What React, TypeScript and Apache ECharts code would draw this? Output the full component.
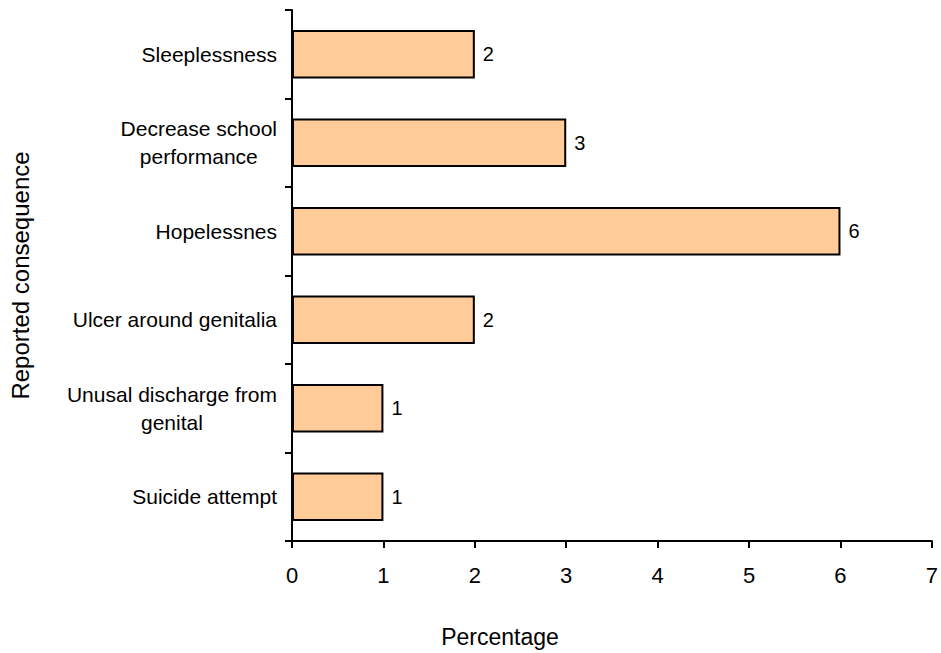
import React, { useEffect, useRef } from "react";
import * as echarts from "echarts";

const categories = [
  "Sleeplessness",
  "Decrease school\nperformance",
  "Hopelessnes",
  "Ulcer around genitalia",
  "Unusal discharge from\ngenital",
  "Suicide attempt",
];
const values = [2, 3, 6, 2, 1, 1];
const xTicks = { min: 0, max: 7, interval: 1 };
const xTitle = "Percentage";
const yTitle = "Reported consequence";

export default function App() {
  const ref = useRef<HTMLDivElement>(null);
  useEffect(() => {
    document.body.style.margin = "0";
    const chart = echarts.init(ref.current!, null, { renderer: "svg" });
    const font = "Liberation Sans, Arial, sans-serif";
    chart.setOption({
      animation: false,
      textStyle: { fontFamily: font, color: "#000" },
      grid: { left: 292, right: 5, top: 10, bottom: 111, containLabel: false },
      xAxis: {
        type: "value",
        min: xTicks.min,
        max: xTicks.max,
        interval: xTicks.interval,
        name: xTitle,
        nameLocation: "middle",
        nameGap: 84,
        nameTextStyle: { fontSize: 23, color: "#000", fontFamily: font, padding: [0, 224, 0, 0] },
        axisLine: { show: true, lineStyle: { color: "#000", width: 2 } },
        axisTick: { show: true, length: 7, lineStyle: { color: "#000", width: 2 } },
        axisLabel: { fontSize: 22, color: "#000", margin: 23, fontFamily: font },
        splitLine: { show: false },
      },
      yAxis: {
        type: "category",
        data: categories,
        inverse: true,
        name: yTitle,
        nameLocation: "middle",
        nameGap: 260,
        nameTextStyle: { fontSize: 24, color: "#000", fontFamily: font },
        axisLine: { show: true, lineStyle: { color: "#000", width: 2 } },
        axisTick: { show: true, length: 7, lineStyle: { color: "#000", width: 2 } },
        axisLabel: {
          margin: 15,
          color: "#000",
          formatter: (v: string) => `{c|${v}}`,
          rich: {
            c: { align: "center", fontSize: 21, lineHeight: 28, color: "#000", fontFamily: font },
          },
        },
      },
      series: [
        {
          type: "bar",
          data: values,
          barWidth: "55%",
          itemStyle: { color: "#FFCC99", borderColor: "#000", borderWidth: 2 },
          label: {
            show: true,
            position: "right",
            distance: 8,
            fontSize: 20,
            color: "#000",
            fontFamily: font,
          },
        },
      ],
    });
    return () => chart.dispose();
  }, []);
  return <div ref={ref} style={{ width: 941, height: 653 }} />;
}
